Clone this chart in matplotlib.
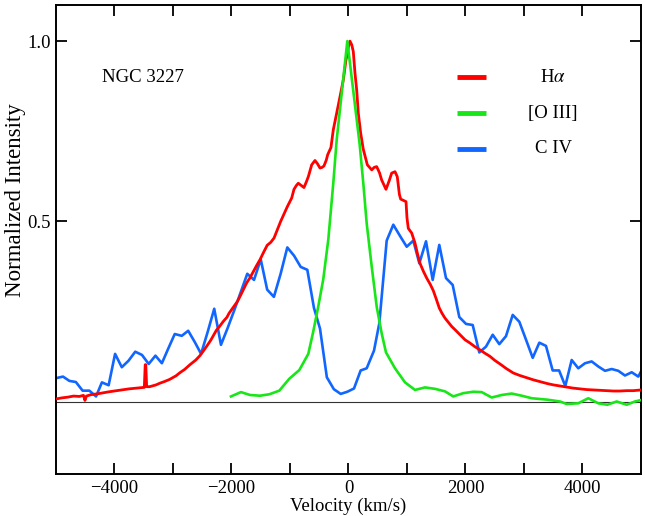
import matplotlib
matplotlib.use("Agg")
import matplotlib.pyplot as plt
from matplotlib.ticker import FixedLocator

plt.rcParams['font.family'] = ['Liberation Serif', 'DejaVu Serif']
plt.rcParams['mathtext.fontset'] = 'stix'

# H-alpha (velocity km/s, normalized intensity)
ha_v = [-5000, -4900, -4800, -4700, -4600, -4530, -4505, -4480, -4400, -4300,
        -4200, -4090, -3960, -3860, -3750, -3630, -3500, -3490, -3475, -3465,
        -3450, -3400, -3290, -3220, -3150, -3060, -2950, -2880, -2800, -2710,
        -2610, -2540, -2490, -2420, -2350, -2260, -2200, -2140, -2080, -2040,
        -1970, -1900, -1855, -1800, -1740, -1680, -1627, -1570, -1513, -1450,
        -1390, -1330, -1273, -1217, -1160, -1115, -1046, -971, -932, -890,
        -858, -810, -761, -720, -687, -629, -573, -530, -487, -450,
        -419, -380, -356, -300, -260, -202, -145, -89, -43, -20,
        0, 25, 55, 82, 111, 140, 168, 208, 253, 322,
        397, 440, 482, 530, 567, 641, 700, 738, 795, 834,
        870, 892, 983, 1000, 1022, 1080, 1137, 1180, 1222, 1280,
        1337, 1400, 1450, 1500, 1552, 1600, 1650, 1700, 1764, 1821,
        1906, 1992, 2077, 2160, 2248, 2330, 2419, 2500, 2590, 2700,
        2817, 2930, 3046, 3160, 3273, 3390, 3501, 3615, 3729, 3843,
        3957, 4070, 4185, 4300, 4413, 4527, 4641, 4755, 4868, 5000]
ha_y = [0.008, 0.011, 0.013, 0.016, 0.015, 0.018, 0.004, 0.016, 0.020, 0.022,
        0.025, 0.028, 0.031, 0.033, 0.036, 0.038, 0.040, 0.040, 0.103, 0.103,
        0.042, 0.042, 0.047, 0.052, 0.056, 0.062, 0.072, 0.081, 0.090, 0.103,
        0.116, 0.128, 0.139, 0.155, 0.172, 0.198, 0.210, 0.223, 0.234, 0.246,
        0.262, 0.278, 0.292, 0.310, 0.330, 0.345, 0.361, 0.378, 0.394, 0.415,
        0.434, 0.442, 0.454, 0.477, 0.500, 0.516, 0.541, 0.565, 0.589, 0.600,
        0.606, 0.600, 0.594, 0.610, 0.624, 0.657, 0.669, 0.660, 0.648, 0.650,
        0.654, 0.670, 0.685, 0.705, 0.754, 0.800, 0.846, 0.892, 0.948, 0.965,
        0.985, 1.000, 0.990, 0.971, 0.911, 0.865, 0.800, 0.745, 0.700, 0.657,
        0.643, 0.650, 0.652, 0.635, 0.615, 0.589, 0.615, 0.634, 0.638, 0.624,
        0.575, 0.562, 0.555, 0.510, 0.481, 0.468, 0.440, 0.410, 0.384, 0.362,
        0.343, 0.325, 0.308, 0.285, 0.260, 0.245, 0.232, 0.222, 0.209, 0.200,
        0.186, 0.172, 0.163, 0.153, 0.144, 0.135, 0.126, 0.115, 0.105, 0.092,
        0.080, 0.073, 0.067, 0.061, 0.056, 0.051, 0.047, 0.044, 0.041, 0.038,
        0.036, 0.034, 0.033, 0.032, 0.031, 0.030, 0.030, 0.031, 0.031, 0.033]

# [O III]
o3_v = [-2009, -1838, -1684, -1513, -1353, -1183, -1012, -841, -687, -602,
        -516, -431, -345, -260, -202, -20, 190, 253, 311, 397,
        482, 567, 641, 795, 966, 1137, 1308, 1480, 1650, 1791,
        1962, 2133, 2277, 2448, 2619, 2790, 2961, 3132, 3400, 3615,
        3730, 3928, 4099, 4270, 4424, 4584, 4755, 4897, 5000]
o3_y = [0.015, 0.027, 0.019, 0.017, 0.021, 0.031, 0.064, 0.088, 0.133, 0.195,
        0.265, 0.340, 0.450, 0.606, 0.726, 1.000, 0.715, 0.606, 0.495, 0.375,
        0.264, 0.190, 0.137, 0.093, 0.054, 0.033, 0.040, 0.036, 0.029, 0.015,
        0.024, 0.028, 0.027, 0.012, 0.019, 0.023, 0.017, 0.010, 0.006, 0.001,
        -0.006, -0.004, 0.010, -0.004, -0.008, 0.001, -0.008, 0.001, 0.005]

# C IV
c4_v = [-4990, -4880, -4770, -4660, -4545, -4430, -4315, -4215, -4100, -3990,
        -3875, -3760, -3645, -3530, -3415, -3300, -3190, -3080, -2970, -2850,
        -2740, -2625, -2520, -2405, -2295, -2180, -2065, -1950, -1840, -1730,
        -1615, -1500, -1390, -1275, -1160, -1046, -930, -817, -704, -590,
        -487, -370, -250, -133, -20, 94, 208, 311, 436, 527,
        653, 766, 880, 995, 1108, 1211, 1325, 1439, 1552, 1667,
        1781, 1894, 2009, 2123, 2236, 2350, 2465, 2578, 2692, 2807,
        2920, 3035, 3149, 3262, 3376, 3490, 3600, 3706, 3815, 3928,
        4043, 4157, 4270, 4385, 4499, 4612, 4726, 4841, 4954, 5000]
c4_y = [0.066, 0.070, 0.058, 0.055, 0.031, 0.031, 0.015, 0.054, 0.046, 0.133,
        0.096, 0.114, 0.139, 0.130, 0.105, 0.128, 0.107, 0.148, 0.188, 0.183,
        0.197, 0.165, 0.133, 0.195, 0.258, 0.158, 0.205, 0.255, 0.305, 0.355,
        0.338, 0.395, 0.311, 0.291, 0.355, 0.428, 0.405, 0.374, 0.366, 0.260,
        0.203, 0.068, 0.035, 0.022, 0.028, 0.037, 0.087, 0.093, 0.142, 0.218,
        0.447, 0.491, 0.460, 0.430, 0.447, 0.384, 0.445, 0.338, 0.435, 0.343,
        0.324, 0.235, 0.216, 0.213, 0.137, 0.153, 0.186, 0.160, 0.182, 0.241,
        0.222, 0.172, 0.122, 0.164, 0.155, 0.087, 0.087, 0.044, 0.116, 0.093,
        0.107, 0.112, 0.098, 0.086, 0.091, 0.086, 0.073, 0.082, 0.070, 0.084]

xtick_vals = [-4000, -2000, 0, 2000, 4000]
xtick_labels = ['\u22124000', '\u22122000', '0', '2000', '4000']
ytick_vals = [0.5, 1.0]
ytick_labels = ['0.5', '1.0']

RED = '#ff0000'
GREEN = '#18e618'
BLUE = '#1166ff'

fig = plt.figure(figsize=(6.45, 5.16), dpi=100)
ax = fig.add_axes([0.0868, 0.0814, 0.9070, 0.9089])

ax.axhline(0, color='#333333', lw=0.8, zorder=1)
ax.plot(c4_v, c4_y, color=BLUE, lw=1.9, zorder=2)
ax.plot(ha_v, ha_y, color=RED, lw=2.0, zorder=3)
ax.plot(o3_v, o3_y, color=GREEN, lw=1.9, zorder=4)

ax.set_xlim(-5000, 5000)
ax.set_ylim(-0.2, 1.1)

ax.xaxis.set_major_locator(FixedLocator(xtick_vals))
ax.xaxis.set_minor_locator(FixedLocator([-3000, -1000, 1000, 3000]))
ax.yaxis.set_major_locator(FixedLocator(ytick_vals))
ax.set_yticklabels(ytick_labels)
ax.set_xticklabels(xtick_labels)

for which in ('major', 'minor'):
    ax.tick_params(which=which, direction='in', length=8, width=1.3,
                   top=True, right=True, labelsize=13.5, pad=4, colors='black')
for s in ax.spines.values():
    s.set_linewidth(1.4)

ax.set_xlabel('Velocity (km/s)', fontsize=13.5, labelpad=1)
ax.set_ylabel('Normalized Intensity', fontsize=16.5)
ax.yaxis.set_label_coords(-0.051, 0.584)

ax.text(-4214, 0.90, 'NGC 3227', fontsize=13.5, ha='left', va='center')

# legend (manual)
leg_labels = [r'H$\alpha$', '[O III]', 'C IV']
leg_colors = [RED, GREEN, BLUE]
leg_y = [0.900, 0.800, 0.701]
for lab, col, yy in zip(leg_labels, leg_colors, leg_y):
    ax.plot([1850, 2350], [yy, yy], color=col, lw=3.5, solid_capstyle='butt')
    ax.text(3500, yy, lab, fontsize=13.5, ha='center', va='center')

fig.savefig('out.png', dpi=100)
